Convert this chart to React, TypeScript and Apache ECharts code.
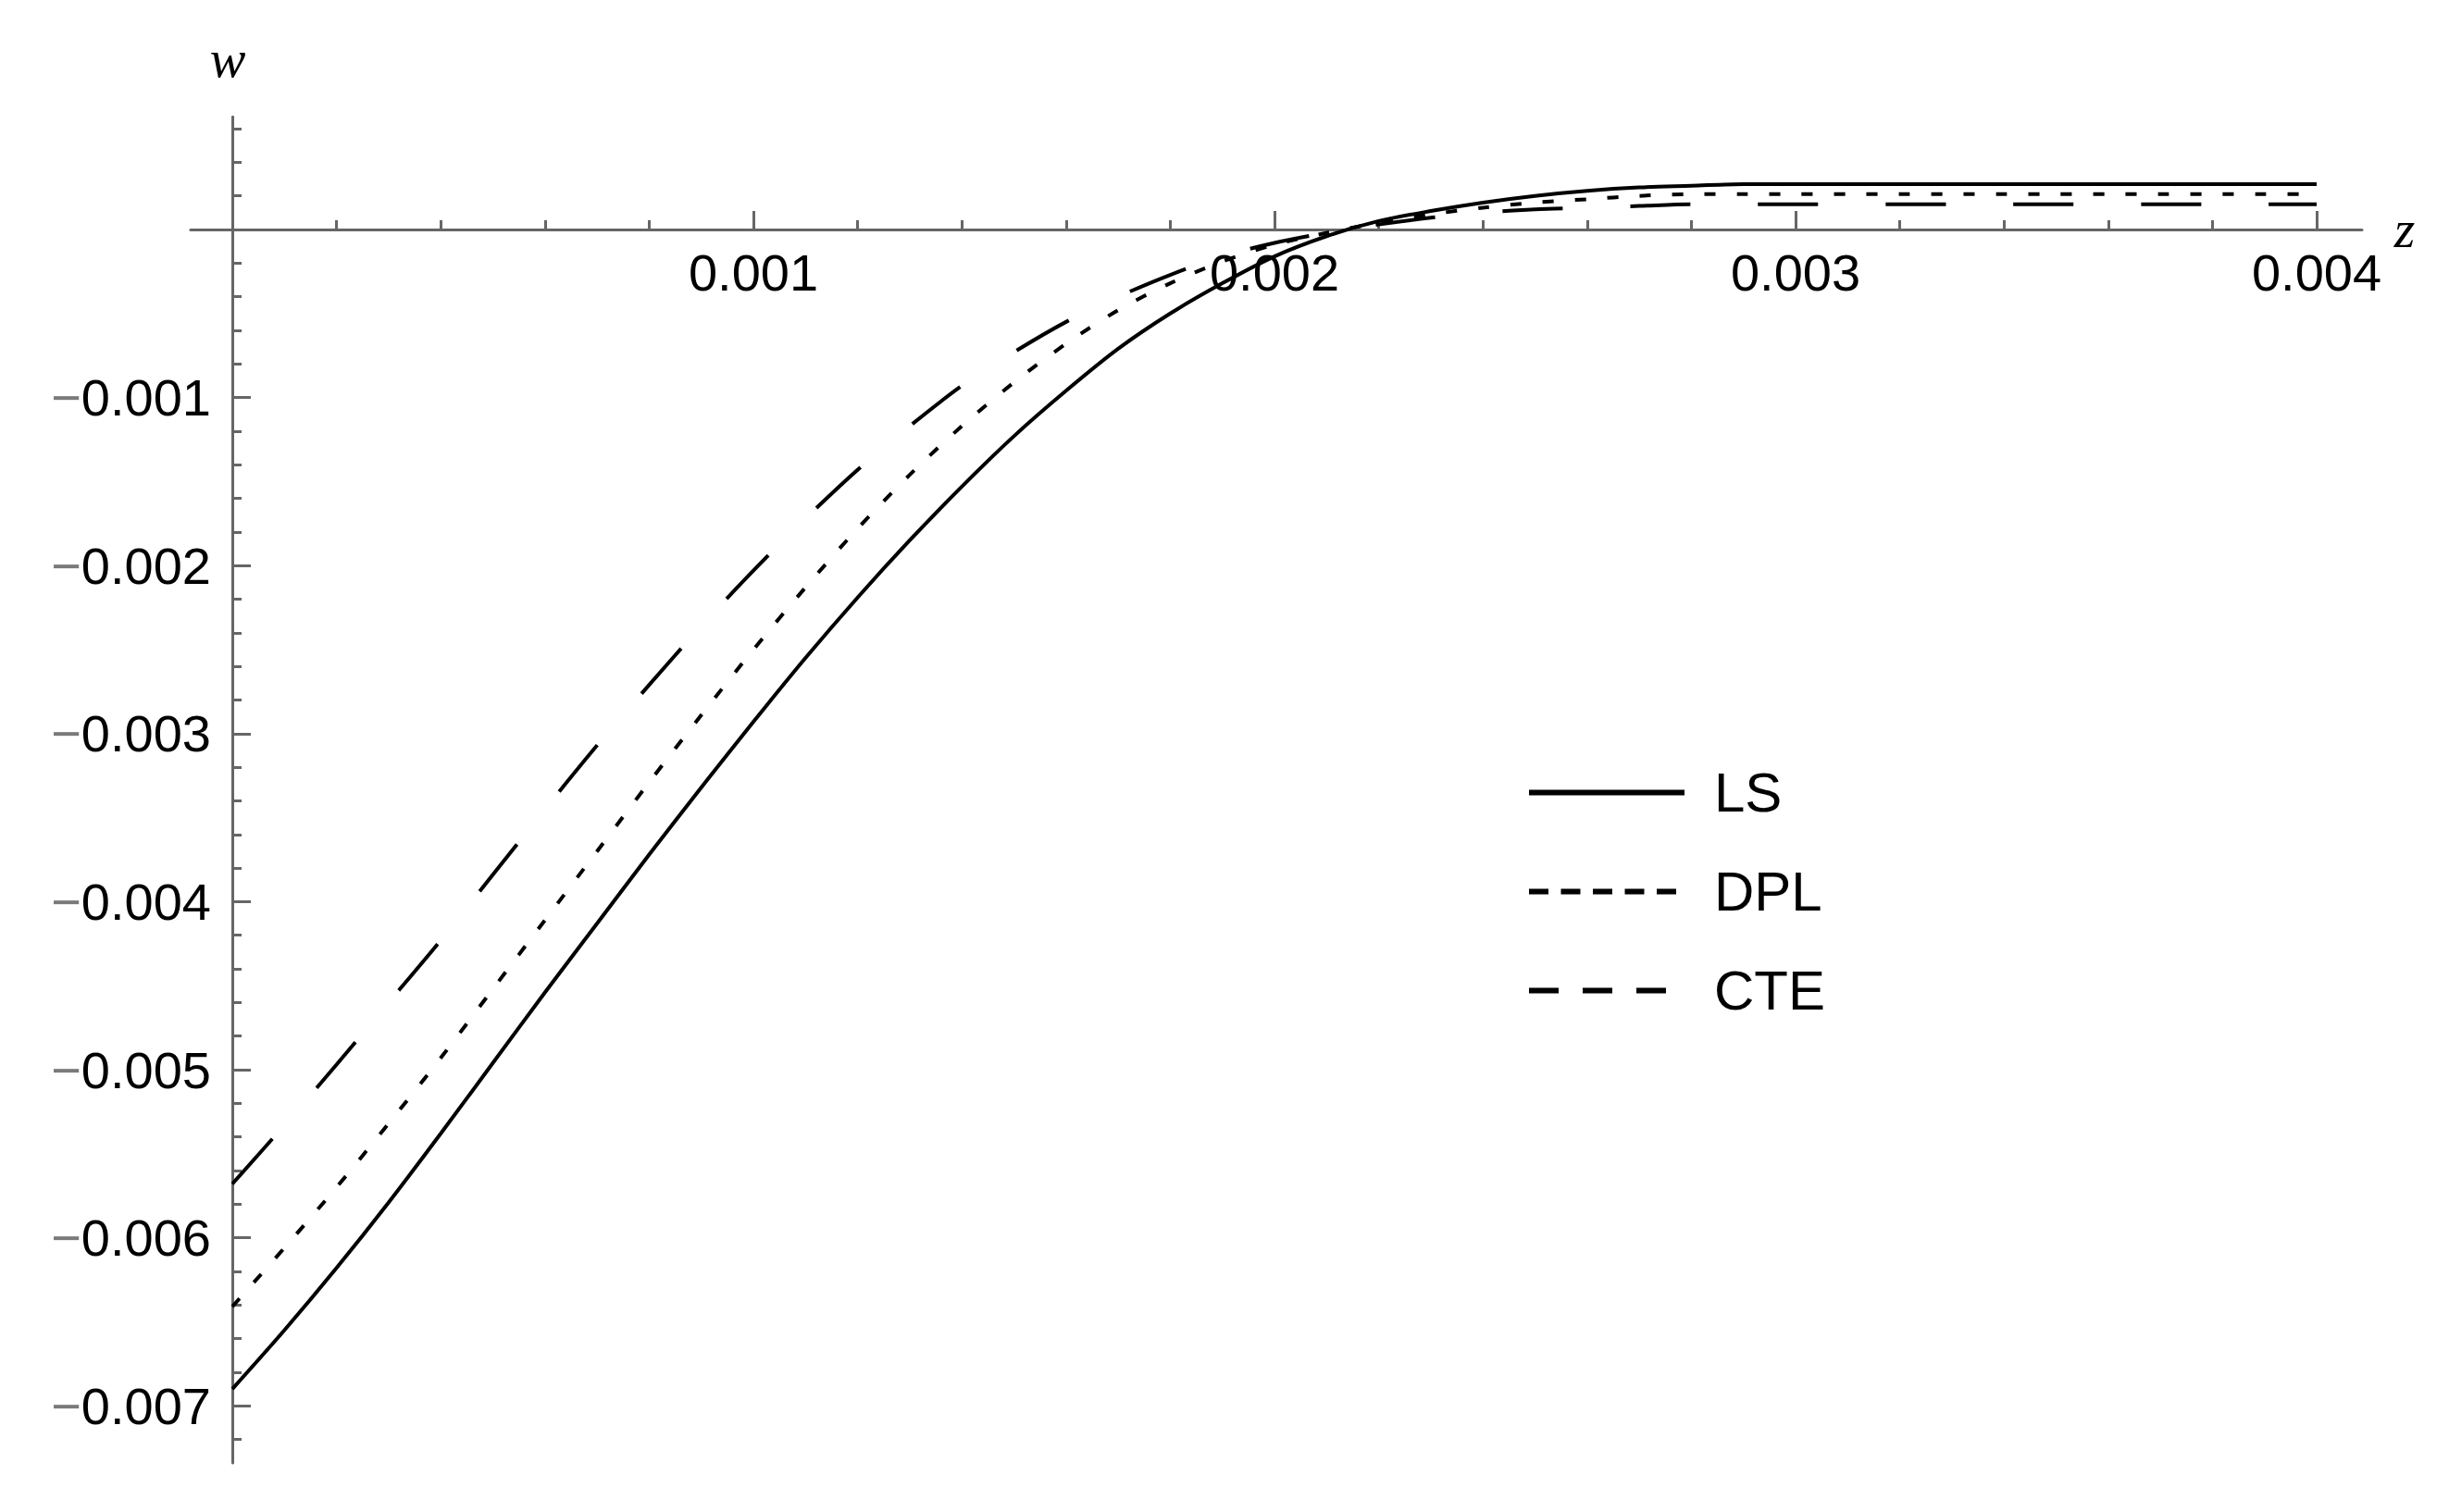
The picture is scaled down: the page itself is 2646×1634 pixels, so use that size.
import React, { useEffect, useRef } from 'react';
import * as echarts from 'echarts';

// ---- data ----
const zValues = [
  0, 0.0001, 0.0002, 0.0003, 0.0004, 0.0005, 0.0006, 0.0007, 0.0008, 0.0009,
  0.001, 0.0011, 0.0012, 0.0013, 0.0014, 0.0015, 0.0016, 0.0017, 0.0018, 0.0019,
  0.002, 0.0021, 0.0022, 0.0023, 0.0024, 0.0025, 0.0026, 0.0027, 0.0028, 0.0029,
  0.003, 0.0031, 0.0032, 0.0033, 0.0034, 0.0035, 0.0036, 0.0037, 0.0038, 0.0039, 0.004,
];

const lsValues = [
  -0.0069, -0.00655, -0.00618, -0.00579, -0.00538, -0.00496, -0.00454, -0.00413, -0.00372, -0.00332,
  -0.00293, -0.00255, -0.00219, -0.00185, -0.00153, -0.00123, -0.00096, -0.00071, -0.0005, -0.00032,
  -0.00016, -0.00004, 0.00005, 0.00011, 0.00016, 0.0002, 0.00023, 0.00025, 0.00026, 0.00027,
  0.00027, 0.00027, 0.00027, 0.00027, 0.00027, 0.00027, 0.00027, 0.00027, 0.00027, 0.00027, 0.00027,
];

const dplValues = [
  -0.00641, -0.00606, -0.0057, -0.00532, -0.00493, -0.00452, -0.00411, -0.0037, -0.00329, -0.00289,
  -0.0025, -0.00213, -0.00178, -0.00146, -0.00117, -0.00091, -0.00068, -0.00048, -0.00032, -0.00019,
  -0.00009, -0.00002, 0.00004, 0.00009, 0.00013, 0.00016, 0.00018, 0.0002, 0.00021, 0.00021,
  0.00021, 0.00021, 0.00021, 0.00021, 0.00021, 0.00021, 0.00021, 0.00021, 0.00021, 0.00021, 0.00021,
];

const cteValues = [
  -0.00568, -0.00533, -0.00497, -0.0046, -0.00423, -0.00384, -0.00345, -0.00307, -0.00271, -0.00236,
  -0.00203, -0.00172, -0.00143, -0.00117, -0.00093, -0.00073, -0.00055, -0.0004, -0.00027, -0.00016,
  -0.00008, -0.00002, 0.00003, 0.00007, 0.0001, 0.00012, 0.00013, 0.00014, 0.00015, 0.00015,
  0.00015, 0.00015, 0.00015, 0.00015, 0.00015, 0.00015, 0.00015, 0.00015, 0.00015, 0.00015, 0.00015,
];

const seriesNames = ['LS', 'DPL', 'CTE'];
const xTickLabels = ['0.001', '0.002', '0.003', '0.004'];
const yTickLabels = ['0.001', '0.002', '0.003', '0.004', '0.005', '0.006', '0.007'];

// ---- layout ----
const X0 = 251;
const XK = 563000;
const Y0 = 248;
const YK = 181600;
const X_MIN = -0.00008;
const X_MAX = 0.004087;
const Y_MIN = -0.00734;
const Y_MAX = 0.00067;

const px = (v: number) => X0 + v * XK;
const py = (v: number) => Y0 - v * YK;
const gridBox = (xa: number, xb: number, ya: number, yb: number) => ({
  left: px(xa),
  top: py(yb),
  width: px(xb) - px(xa),
  height: py(ya) - py(yb),
  containLabel: false,
});

const AXIS_COLOR = '#666666';
const SANS = 'Liberation Sans';
const SERIF = 'Liberation Serif';

const hiddenAxis = (gridIndex: number) => ({
  type: 'value',
  gridIndex,
  show: false,
  min: 0,
  max: 1,
});

export default function App() {
  const ref = useRef<HTMLDivElement>(null);

  useEffect(() => {
    if (!ref.current) return;
    const chart = echarts.init(ref.current, undefined, { renderer: 'svg' });

    const fmtX = (v: number) => {
      const s = Math.abs(v).toFixed(3);
      return xTickLabels.includes(s) ? s : '';
    };
    const fmtY = (v: number) => {
      const s = Math.abs(v).toFixed(3);
      if (v < 0 && yTickLabels.includes(s)) return '{m|\u2212}{n|' + s + '}';
      return '';
    };

    const lineStyles = [
      { color: '#000', width: 4, type: 'solid' },
      { color: '#000', width: 4, type: [12, 23] },
      { color: '#000', width: 4, type: [65, 73] },
    ];
    const legendLineStyles = [
      { color: '#000', width: 6, type: 'solid' },
      { color: '#000', width: 6, type: [21, 13.5] },
      { color: '#000', width: 6, type: [32, 26] },
    ];
    const valueSets = [lsValues, dplValues, cteValues];

    const option: any = {
      animation: false,
      backgroundColor: '#ffffff',
      grid: [
        gridBox(X_MIN, X_MAX, Y_MIN, Y_MAX), // 0 data + axis lines
        gridBox(0, 0.004, 0, Y_MAX), // 1 x major/minor ticks + labels
        gridBox(0, X_MAX, -0.007, 0), // 2 y major ticks + labels
        gridBox(0, X_MAX, -0.0072, 0.0006), // 3 y minor ticks
      ],
      xAxis: [
        {
          type: 'value',
          gridIndex: 0,
          min: X_MIN,
          max: X_MAX,
          axisLine: { show: true, onZero: true, lineStyle: { color: AXIS_COLOR, width: 3 } },
          axisTick: { show: false },
          axisLabel: { show: false },
          splitLine: { show: false },
        },
        {
          type: 'value',
          gridIndex: 1,
          position: 'bottom',
          min: 0,
          max: 0.004,
          interval: 0.001,
          axisLine: { show: false, onZero: false },
          axisTick: { show: true, inside: true, length: 20, lineStyle: { color: AXIS_COLOR, width: 3 } },
          minorTick: { show: true, splitNumber: 5, length: 10, lineStyle: { color: AXIS_COLOR, width: 3 } },
          axisLabel: {
            show: true,
            margin: 18,
            formatter: fmtX,
            color: '#000',
            fontSize: 56,
            fontFamily: SANS,
            showMinLabel: true,
            showMaxLabel: true,
          },
          splitLine: { show: false },
        },
        hiddenAxis(2),
        hiddenAxis(3),
      ],
      yAxis: [
        {
          type: 'value',
          gridIndex: 0,
          min: Y_MIN,
          max: Y_MAX,
          axisLine: { show: true, onZero: true, lineStyle: { color: AXIS_COLOR, width: 3 } },
          axisTick: { show: false },
          axisLabel: { show: false },
          splitLine: { show: false },
        },
        hiddenAxis(1),
        {
          type: 'value',
          gridIndex: 2,
          position: 'left',
          min: -0.007,
          max: 0,
          interval: 0.001,
          axisLine: { show: false, onZero: false },
          axisTick: { show: true, inside: true, length: 20, lineStyle: { color: AXIS_COLOR, width: 3 } },
          axisLabel: {
            show: true,
            margin: 23,
            formatter: fmtY,
            showMinLabel: true,
            showMaxLabel: true,
            rich: {
              m: { color: '#7a7a7a', fontSize: 56, fontFamily: SANS },
              n: { color: '#000', fontSize: 56, fontFamily: SANS },
            },
          },
          splitLine: { show: false },
        },
        {
          type: 'value',
          gridIndex: 3,
          position: 'left',
          min: -0.0072,
          max: 0.0006,
          interval: 0.0002,
          axisLine: { show: false, onZero: false },
          axisTick: { show: true, inside: true, length: 10, lineStyle: { color: AXIS_COLOR, width: 3 } },
          axisLabel: { show: false },
          splitLine: { show: false },
        },
      ],
      legend: {
        orient: 'vertical',
        left: 1649,
        top: 822,
        padding: 0,
        itemWidth: 168,
        itemHeight: 20,
        itemGap: 38,
        selectedMode: false,
        itemStyle: { color: 'rgba(0,0,0,0)', borderWidth: 0, opacity: 0 },
        textStyle: {
          color: '#000',
          fontSize: 60,
          fontFamily: SANS,
          lineHeight: 60,
          padding: [0, 0, 9, 27],
        },
        data: seriesNames.map((name, i) => ({
          name,
          itemStyle: { color: 'rgba(0,0,0,0)', borderWidth: 0, opacity: 0 },
          lineStyle: legendLineStyles[i],
        })),
      },
      series: seriesNames.map((name, i) => ({
        name,
        type: 'line',
        xAxisIndex: 0,
        yAxisIndex: 0,
        data: zValues.map((z, k) => [z, valueSets[i][k]]),
        showSymbol: false,
        symbol: 'none',
        smooth: 0.3,
        lineStyle: lineStyles[i],
        itemStyle: { color: '#000' },
        emphasis: { disabled: true },
        silent: true,
        z: 3,
      })),
      graphic: [
        {
          type: 'text',
          x: 246,
          y: 63,
          style: {
            text: 'w',
            fontSize: 58,
            fontStyle: 'italic',
            fontFamily: SERIF,
            fill: '#000',
            align: 'center',
            verticalAlign: 'middle',
          },
        },
        {
          type: 'text',
          x: 2598,
          y: 247,
          style: {
            text: 'z',
            fontSize: 58,
            fontStyle: 'italic',
            fontFamily: SERIF,
            fill: '#000',
            align: 'center',
            verticalAlign: 'middle',
          },
        },
      ],
    };

    chart.setOption(option);
    return () => {
      chart.dispose();
    };
  }, []);

  return (
    <div
      ref={ref}
      style={{ position: 'absolute', left: 0, top: 0, width: '2646px', height: '1634px', background: '#fff' }}
    />
  );
}
